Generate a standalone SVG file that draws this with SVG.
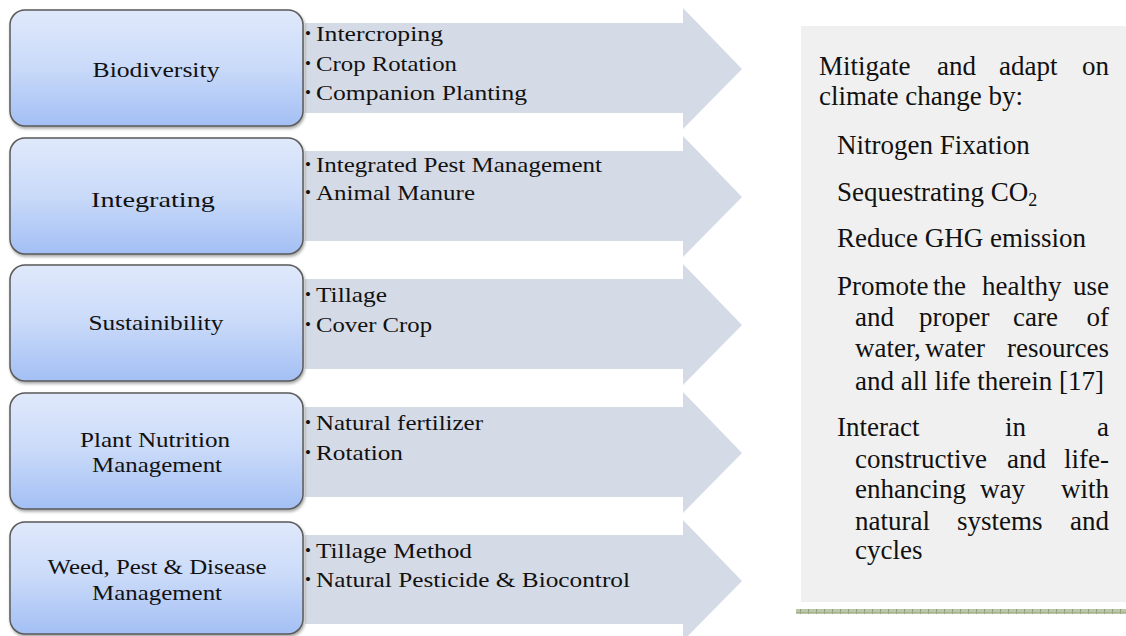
<svg xmlns="http://www.w3.org/2000/svg" width="1126" height="636" viewBox="0 0 1126 636">
<defs>
<linearGradient id="boxg" x1="0" y1="0" x2="0" y2="1">
<stop offset="0" stop-color="#e0e9fb"/>
<stop offset="0.5" stop-color="#c9daf9"/>
<stop offset="1" stop-color="#a3bff4"/>
</linearGradient>
<filter id="sh" x="-5%" y="-5%" width="110%" height="115%">
<feDropShadow dx="1" dy="2" stdDeviation="1.5" flood-color="#000" flood-opacity="0.35"/>
</filter>
<pattern id="hatch" width="8" height="5" patternUnits="userSpaceOnUse">
<rect width="8" height="5" fill="#bcc6a8"/>
<rect x="0" y="0" width="1" height="5" fill="#8f9c78"/>
<rect x="0" y="2" width="8" height="1" fill="#a7b38f"/>
</pattern>
<style>
.box{fill:url(#boxg);stroke:#5a5a5a;stroke-width:1.5;filter:url(#sh)}
.arrow{fill:#d5dbe6}
text{font-family:'Liberation Serif','DejaVu Serif',serif;fill:#111}
.lbl{font-size:21px;text-anchor:middle}
.itm{font-size:21px}
.bul{font-size:17px}
.rt{font-size:27px}
.end{text-anchor:end}
</style>
</defs>
<rect width="1126" height="636" fill="#ffffff"/>

<g id="connectors">
<polygon class="arrow" points="305,23 683,23 683,8 742,69 683,129 683,113 305,113"/>
<polygon class="arrow" points="305,151 683,151 683,136 742,197 683,257 683,241 305,241"/>
<polygon class="arrow" points="305,279 683,279 683,264 742,325 683,385 683,369 305,369"/>
<polygon class="arrow" points="305,407 683,407 683,392 742,453 683,513 683,497 305,497"/>
<polygon class="arrow" points="305,535 683,535 683,520 742,581 683,641 683,624 305,624"/>
</g>

<g id="items">
<text class="bul" x="305" y="39">•</text><text class="itm" x="316" y="41" textLength="127" lengthAdjust="spacingAndGlyphs">Intercroping</text>
<text class="bul" x="305" y="69">•</text><text class="itm" x="316" y="71" textLength="141" lengthAdjust="spacingAndGlyphs">Crop Rotation</text>
<text class="bul" x="305" y="98">•</text><text class="itm" x="316" y="100" textLength="211" lengthAdjust="spacingAndGlyphs">Companion Planting</text>

<text class="bul" x="305" y="170">•</text><text class="itm" x="316" y="172" textLength="286" lengthAdjust="spacingAndGlyphs">Integrated Pest Management</text>
<text class="bul" x="305" y="198">•</text><text class="itm" x="316" y="200" textLength="159" lengthAdjust="spacingAndGlyphs">Animal Manure</text>

<text class="bul" x="305" y="300">•</text><text class="itm" x="316" y="302" textLength="71" lengthAdjust="spacingAndGlyphs">Tillage</text>
<text class="bul" x="305" y="330">•</text><text class="itm" x="316" y="332" textLength="116" lengthAdjust="spacingAndGlyphs">Cover Crop</text>

<text class="bul" x="305" y="428">•</text><text class="itm" x="316" y="430" textLength="167" lengthAdjust="spacingAndGlyphs">Natural fertilizer</text>
<text class="bul" x="305" y="458">•</text><text class="itm" x="316" y="460" textLength="87" lengthAdjust="spacingAndGlyphs">Rotation</text>

<text class="bul" x="305" y="556">•</text><text class="itm" x="316" y="558" textLength="156" lengthAdjust="spacingAndGlyphs">Tillage Method</text>
<text class="bul" x="305" y="585">•</text><text class="itm" x="316" y="587" textLength="314" lengthAdjust="spacingAndGlyphs">Natural Pesticide &amp; Biocontrol</text>
</g>

<g id="node-biodiversity">
<rect class="box" x="10" y="10" width="293" height="116" rx="15"/>
<text class="lbl" x="156" y="77" textLength="127" lengthAdjust="spacingAndGlyphs">Biodiversity</text>
</g>
<g id="node-integrating">
<rect class="box" x="10" y="138" width="293" height="116" rx="15"/>
<text class="lbl" x="153" y="207" textLength="124" lengthAdjust="spacingAndGlyphs">Integrating</text>
</g>
<g id="node-sustainibility">
<rect class="box" x="10" y="265" width="293" height="116" rx="15"/>
<text class="lbl" x="156" y="330" textLength="135" lengthAdjust="spacingAndGlyphs">Sustainibility</text>
</g>
<g id="node-plant-nutrition">
<rect class="box" x="10" y="393" width="293" height="116" rx="15"/>
<text class="lbl" x="155" y="447" textLength="150" lengthAdjust="spacingAndGlyphs">Plant Nutrition</text>
<text class="lbl" x="157" y="472" textLength="130" lengthAdjust="spacingAndGlyphs">Management</text>
</g>
<g id="node-weed">
<rect class="box" x="10" y="522" width="293" height="112" rx="15"/>
<text class="lbl" x="157" y="574" textLength="219" lengthAdjust="spacingAndGlyphs">Weed, Pest &amp; Disease</text>
<text class="lbl" x="157" y="600" textLength="130" lengthAdjust="spacingAndGlyphs">Management</text>
</g>

<g id="node-outcomes">
<rect x="801" y="26" width="325" height="576" fill="#f0f0f0"/>
<text class="rt" x="819" y="75">Mitigate</text><text class="rt" x="937" y="75">and</text><text class="rt" x="999" y="75">adapt</text><text class="rt end" x="1109" y="75">on</text>
<text class="rt" x="819" y="105">climate change by:</text>
<text class="rt" x="837" y="154">Nitrogen Fixation</text>
<text class="rt" x="837" y="201">Sequestrating CO<tspan font-size="18" dy="5">2</tspan></text>
<text class="rt" x="837" y="247">Reduce GHG emission</text>
<text class="rt" x="837" y="295">Promote</text><text class="rt" x="933" y="295">the</text><text class="rt" x="982" y="295">healthy</text><text class="rt end" x="1109" y="295">use</text>
<text class="rt" x="855" y="326">and</text><text class="rt" x="919" y="326">proper</text><text class="rt" x="1013" y="326">care</text><text class="rt end" x="1109" y="326">of</text>
<text class="rt" x="855" y="357">water,</text><text class="rt" x="925" y="357">water</text><text class="rt end" x="1109" y="357">resources</text>
<text class="rt" x="855" y="390">and all life therein [17]</text>
<text class="rt" x="837" y="436">Interact</text><text class="rt" x="1005" y="436">in</text><text class="rt end" x="1109" y="436">a</text>
<text class="rt" x="855" y="468">constructive</text><text class="rt" x="1007" y="468">and</text><text class="rt end" x="1109" y="468">life-</text>
<text class="rt" x="855" y="498">enhancing</text><text class="rt" x="980" y="498">way</text><text class="rt end" x="1109" y="498">with</text>
<text class="rt" x="855" y="530">natural</text><text class="rt" x="957" y="530">systems</text><text class="rt end" x="1109" y="530">and</text>
<text class="rt" x="855" y="559">cycles</text>
</g>

<rect x="796" y="609" width="330" height="5" fill="url(#hatch)"/>
</svg>
